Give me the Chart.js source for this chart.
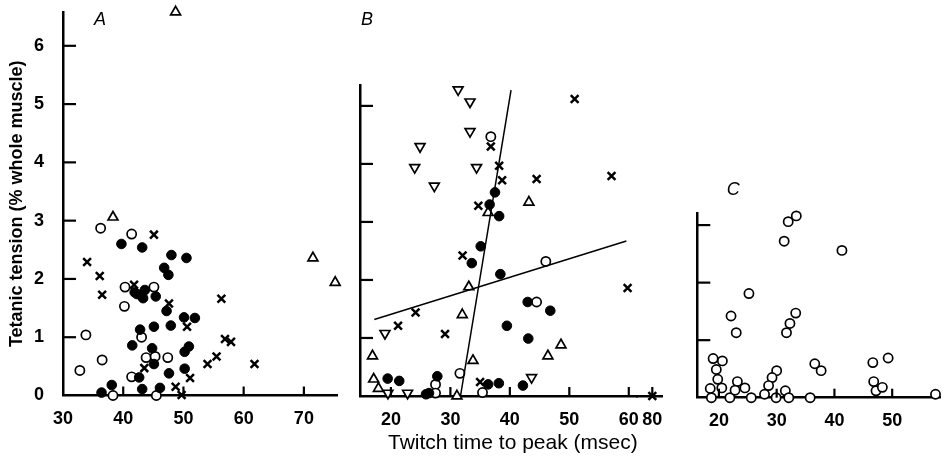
<!DOCTYPE html>
<html>
<head>
<meta charset="utf-8">
<script src="https://cdn.jsdelivr.net/npm/chart.js@4.4.0/dist/chart.umd.min.js"></script>
<style>
html, body { margin: 0; padding: 0; background: #fff; }
#wrap { position: relative; width: 947px; height: 456px; overflow: hidden; }
canvas { position: absolute; top: 0; }
</style>
</head>
<body>
<div id="wrap">
  <canvas id="chartA" width="345" height="456" style="left:0px"></canvas>
  <canvas id="chartB" width="347" height="456" style="left:345px"></canvas>
  <canvas id="chartC" width="267" height="456" style="left:680px"></canvas>
</div>
<script>
'use strict';

// tick labels
var yTicksA = [0, 1, 2, 3, 4, 5, 6];
var yTicksB = [0, 1, 2, 3, 4, 5];
var yTicksC = [0, 1, 2, 3];
var xTicksA = [30, 40, 50, 60, 70];
var xTicksB = [20, 30, 40, 50, 60];
var xTicksB80 = [80];
var xTicksC = [20, 30, 40, 50];

// panel A  [twitch time (msec), tetanic tension (%)]
var aFilled = [[39.7,2.60],[43.15,2.54],[48.0,2.41],[50.5,2.36],[46.8,2.19],[47.5,2.07],
  [41.9,1.77],[42.3,1.74],[43.6,1.81],[43.3,1.67],[45.4,1.70],[47.2,1.45],[50.1,1.34],
  [51.9,1.33],[45.1,1.18],[47.9,1.20],[42.8,1.13],[41.5,0.86],[44.8,0.81],[45.1,0.54],
  [50.2,0.75],[50.9,0.84],[50.2,0.46],[47.6,0.38],[42.65,0.31],[38.1,0.18],[36.4,0.05],
  [43.15,0.11],[46.1,0.13]];
var aOpen = [[36.25,2.87],[41.4,2.77],[40.3,1.86],[45.1,1.86],[40.2,1.53],[43.05,1.0],
  [33.8,1.04],[43.8,0.65],[45.3,0.67],[47.4,0.65],[41.4,0.32],[38.3,0],[45.5,0],
  [36.5,0.61],[32.8,0.43]];
var aCross = [[45.1,2.76],[34.0,2.29],[36.1,2.05],[36.5,1.73],[41.8,1.90],[47.6,1.58],
  [50.6,1.18],[43.5,0.47],[51.1,0.30],[48.7,0.15],[49.7,0.01],[56.3,1.66],[56.9,0.97],
  [57.9,0.92],[55.5,0.67],[54.0,0.54],[61.8,0.54]];
var aTriUp = [[48.7,6.58],[38.3,3.06],[71.5,2.36],[75.2,1.94]];

// panel B
var bFilled = [[37.5,3.51],[36.6,3.30],[38.2,3.10],[35.1,2.58],[33.6,2.29],[38.4,2.10],
  [43.0,1.62],[46.8,1.47],[39.5,1.21],[43.1,0.99],[19.45,0.30],[21.4,0.26],[27.8,0.34],
  [36.35,0.20],[38.15,0.22],[42.2,0.18],[25.9,0.03],[26.4,0.05]];
var bOpen = [[36.8,4.47],[46.05,2.32],[44.5,1.62],[31.6,0.39],[27.5,0.20],[27.5,0.05],[35.4,0.06]];
var bCross = [[36.8,4.30],[38.2,3.97],[38.7,3.72],[44.5,3.74],[50.9,5.12],[57.1,3.79],
  [34.7,3.28],[32.05,2.42],[59.8,1.86],[24.15,1.44],[21.2,1.21],[29.1,1.07],[35.0,0.24]];
var bCross80 = [[80,0]];
var bTriUp = [[36.35,3.16],[43.2,3.34],[33.1,1.88],[32.0,1.40],[48.6,0.88],[16.9,0.69],
  [46.4,0.69],[33.8,0.61],[17.1,0.29],[17.9,0.13],[31.1,0]];
var bTriDown = [[31.3,5.28],[33.3,5.07],[33.3,4.56],[24.9,4.30],[24.0,3.94],[34.4,3.94],
  [27.3,3.62],[19.0,1.08],[43.65,0.32],[19.5,0.05],[22.8,0.05]];
var bLineSteep = [[31.7,0],[40.2,5.27]];
var bLineShallow = [[17.2,1.32],[59.6,2.67]];

// panel C
var cOpen = [[33.4,3.16],[32.0,3.06],[31.3,2.72],[41.3,2.56],[25.2,1.81],[22.1,1.42],
  [23.0,1.13],[33.3,1.47],[32.3,1.29],[31.7,1.13],[19.0,0.68],[20.6,0.64],[19.55,0.49],
  [19.8,0.32],[18.5,0.16],[20.5,0.17],[18.7,0],[21.9,0],[23.2,0.28],[22.8,0.13],
  [24.5,0.17],[25.6,0],[30.0,0.47],[29.2,0.35],[28.6,0.21],[27.9,0.06],[29.9,0],
  [31.5,0.12],[32.1,0],[35.8,0],[36.6,0.59],[37.7,0.47],[46.65,0.61],[49.3,0.69],
  [46.8,0.28],[47.2,0.12],[48.3,0.18],[57.5,0.06]];

Chart.defaults.font.family = "'Liberation Sans', Arial, sans-serif";
Chart.defaults.color = '#000';

function pts(list) {
  return list.map(function (p) { return {x: p[0], y: p[1]}; });
}

function filled(list) {
  return {data: pts(list), pointStyle: 'circle', pointRadius: 4.8,
    backgroundColor: '#000', borderColor: '#000', borderWidth: 1, clip: false};
}
function open(list) {
  return {data: pts(list), pointStyle: 'circle', pointRadius: 4.6,
    backgroundColor: '#fff', borderColor: '#000', borderWidth: 1.7, clip: false};
}
function cross(list) {
  return {data: pts(list), pointStyle: 'crossRot', pointRadius: 5.5,
    borderColor: '#000', borderWidth: 2.5, clip: false};
}
function tri(list, rot) {
  return {data: pts(list), pointStyle: 'triangle', pointRadius: 5.7, rotation: rot,
    backgroundColor: '#fff', borderColor: '#000', borderWidth: 1.7, clip: false};
}
function fitLine(list) {
  return {type: 'line', data: pts(list), showLine: true, pointRadius: 0,
    borderColor: '#000', borderWidth: 1.5, fill: false};
}
function fixTicks(vals) {
  return function (s) { s.ticks = vals.map(function (v) { return {value: v}; }); };
}
// fixed axis size, no extra label padding pushing the plot area around
function fitX(h) {
  return function (s) { s.height = h; s.paddingLeft = 0; s.paddingRight = 0; };
}
function fitY(w) {
  return function (s) { s.width = w; s.paddingTop = 0; s.paddingBottom = 0; };
}

// tick marks point into the plot, as in the figure
var inwardTicks = {
  id: 'inwardTicks',
  afterDraw: function (chart, args, opts) {
    var ctx = chart.ctx, area = chart.chartArea;
    ctx.save();
    ctx.strokeStyle = '#000';
    ctx.lineWidth = 2.2;
    Object.keys(chart.scales).forEach(function (id) {
      var s = chart.scales[id];
      s.ticks.forEach(function (t) {
        var p = s.getPixelForValue(t.value);
        if (s.isHorizontal()) {
          if (p - area.left < 3) return;
          ctx.beginPath();
          ctx.moveTo(p, s.top);
          ctx.lineTo(p, s.top - 9);
        } else {
          if (t.value === 0) return;
          ctx.beginPath();
          ctx.moveTo(area.left, p);
          ctx.lineTo(area.left + 13, p);
        }
        ctx.stroke();
      });
    });
    if (opts.letter) {
      ctx.fillStyle = '#000';
      ctx.font = "italic 18px 'Liberation Sans', Arial, sans-serif";
      ctx.textAlign = 'center';
      ctx.textBaseline = 'middle';
      ctx.fillText(opts.letter, area.left + opts.dx, opts.y);
    }
    ctx.restore();
  }
};

var border = {display: true, color: '#000', width: 2.5};
var tickFont = {size: 18, weight: 'bold'};

new Chart(document.getElementById('chartA'), {
  type: 'scatter',
  data: {datasets: [filled(aFilled), open(aOpen), cross(aCross), tri(aTriUp, 0)]},
  options: {
    responsive: false, animation: false,
    layout: {padding: {top: 12, right: 8, left: 0, bottom: 0}},
    plugins: {legend: {display: false}, tooltip: {enabled: false},
      inwardTicks: {letter: 'A', dx: 37, y: 20}},
    scales: {
      x: {type: 'linear', min: 30, max: 75.5, grid: {display: false}, border: border,
        afterBuildTicks: fixTicks(xTicksA), afterFit: fitX(60.5),
        ticks: {font: tickFont, padding: 5, maxRotation: 0}},
      y: {type: 'linear', min: 0, max: 6.58, grid: {display: false}, border: border,
        afterBuildTicks: fixTicks(yTicksA), afterFit: fitY(63),
        ticks: {font: tickFont, padding: 11},
        title: {display: true, text: 'Tetanic tension (% whole muscle)',
          font: {size: 18, weight: 'bold'}, padding: {top: 6, bottom: 0}}}
    }
  },
  plugins: [inwardTicks]
});

new Chart(document.getElementById('chartB'), {
  type: 'scatter',
  data: {datasets: [
    fitLine(bLineSteep), fitLine(bLineShallow),
    filled(bFilled), open(bOpen), cross(bCross),
    Object.assign(cross(bCross80), {xAxisID: 'x80'}),
    tri(bTriUp, 0), tri(bTriDown, 180)
  ]},
  options: {
    responsive: false, animation: false,
    layout: {padding: {top: 85, right: 30, left: 0, bottom: 0}},
    plugins: {legend: {display: false}, tooltip: {enabled: false},
      inwardTicks: {letter: 'B', dx: 7, y: 20}},
    scales: {
      x: {type: 'linear', position: 'bottom', stack: 'xs', stackWeight: 277.7,
        min: 14.8, max: 61.5, grid: {display: false}, border: border,
        afterBuildTicks: fixTicks(xTicksB), afterFit: fitX(60),
        ticks: {font: tickFont, padding: 5, maxRotation: 0},
        title: {display: true, text: 'Twitch time to peak (msec)', align: 'end',
          font: {size: 21, weight: 'normal'}, padding: {top: 0, bottom: 0}}},
      x80: {type: 'linear', position: 'bottom', stack: 'xs', stackWeight: 24.3,
        min: 77.55, max: 81.63, grid: {display: false},
        border: {display: true, color: '#000', width: 2.5, dash: [0, 8.3, 12.3, 40]},
        afterBuildTicks: fixTicks(xTicksB80), afterFit: fitX(60),
        ticks: {font: tickFont, padding: 5, maxRotation: 0}},
      y: {type: 'linear', min: 0, max: 5.36, grid: {display: false}, border: border,
        afterBuildTicks: fixTicks(yTicksB), afterFit: fitY(15),
        ticks: {display: false}}
    }
  },
  plugins: [inwardTicks]
});

new Chart(document.getElementById('chartC'), {
  type: 'scatter',
  data: {datasets: [open(cOpen)]},
  options: {
    responsive: false, animation: false,
    layout: {padding: {top: 213, right: 2, left: 0, bottom: 0}},
    plugins: {legend: {display: false}, tooltip: {enabled: false},
      inwardTicks: {letter: 'C', dx: 36, y: 190}},
    scales: {
      x: {type: 'linear', min: 16.26, max: 58.4, grid: {display: false}, border: border,
        afterBuildTicks: fixTicks(xTicksC), afterFit: fitX(58.3),
        ticks: {font: tickFont, padding: 5, maxRotation: 0}},
      y: {type: 'linear', min: 0, max: 3.21, grid: {display: false}, border: border,
        afterBuildTicks: fixTicks(yTicksC), afterFit: fitY(17.3),
        ticks: {display: false}}
    }
  },
  plugins: [inwardTicks]
});
</script>
</body>
</html>
